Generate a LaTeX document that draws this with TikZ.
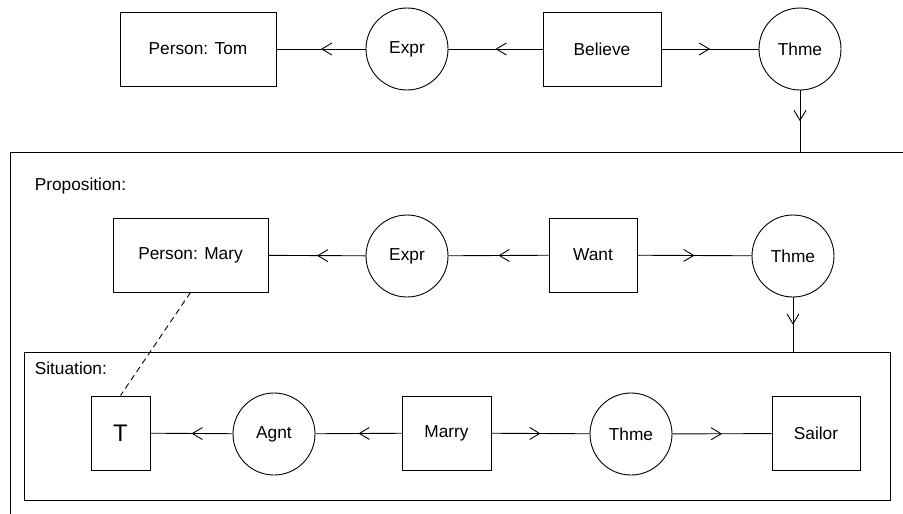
\documentclass[tikz,border=0pt]{standalone}
\usepackage{fontspec}
\setmainfont{Liberation Sans}
\usetikzlibrary{arrows.meta,decorations.markings}

\begin{document}
\begin{tikzpicture}[x=1pt, y=-1pt, line width=0.9pt,
    every node/.style={font=\fontsize{17.3}{20}\selectfont},
    concept/.style={draw, rectangle, minimum height=74pt, inner sep=0pt},
    relation/.style={draw, circle, minimum size=82pt, inner sep=0pt},
    link/.style={postaction={decorate}, decoration={markings,
        mark=at position 0.5 with {\arrow{Straight Barb[length=10pt,width=12pt]}}}}]
    \useasboundingbox (0,0) rectangle (903,514);
    \clip (0,0) rectangle (903,514);

    % Tom believes ...
    \node[concept, minimum width=156pt] (tom) at (198,49) {Person: Tom};
    \node[relation] (exprA) at (407,49) {Expr};
    \node[concept, minimum width=118pt] (believe) at (602,49) {Believe};
    \node[relation] (thmeA) at (800,49) {Thme};
    \draw[link] (exprA) -- (tom);
    \draw[link] (believe) -- (exprA);
    \draw[link] (believe) -- (thmeA);

    % Proposition context
    \draw (10,152) rectangle (930,540);
    \coordinate (proptop) at (800,152);
    \draw[link] (thmeA) -- (proptop);
    \node[anchor=west] (proplabel) at (31,186) {Proposition:};

    \node[concept, minimum width=155pt] (mary) at (190.5,255) {Person: Mary};
    \node[relation] (exprB) at (407,256) {Expr};
    \node[concept, minimum width=88pt] (want) at (593,255) {Want};
    \node[relation] (thmeB) at (793,256) {Thme};
    \draw[link] (exprB) -- (mary);
    \draw[link] (want) -- (exprB);
    \draw[link] (want) -- (thmeB);

    % Situation context
    \draw (24,352) rectangle (890,500);
    \coordinate (sittop) at (793,352);
    \draw[link] (thmeB) -- (sittop);
    \node[anchor=west] (sitlabel) at (31,368) {Situation:};

    \node[concept, minimum width=59pt, font=\fontsize{24}{28}\selectfont] (t) at (120.5,433) {T};
    \node[relation] (agnt) at (274,434) {Agnt};
    \node[concept, minimum width=89pt] (marry) at (446.5,433) {Marry};
    \node[relation] (thmeC) at (631,434) {Thme};
    \node[concept, minimum width=88pt] (sailor) at (816,433.5) {Sailor};
    \draw[link] (agnt) -- (t);
    \draw[link] (marry) -- (agnt);
    \draw[link] (marry) -- (thmeC);
    \draw[link] (thmeC) -- (sailor);

    % coreference
    \draw[dash pattern=on 6pt off 4pt] (mary.south) -- (t.north);
\end{tikzpicture}
\end{document}
